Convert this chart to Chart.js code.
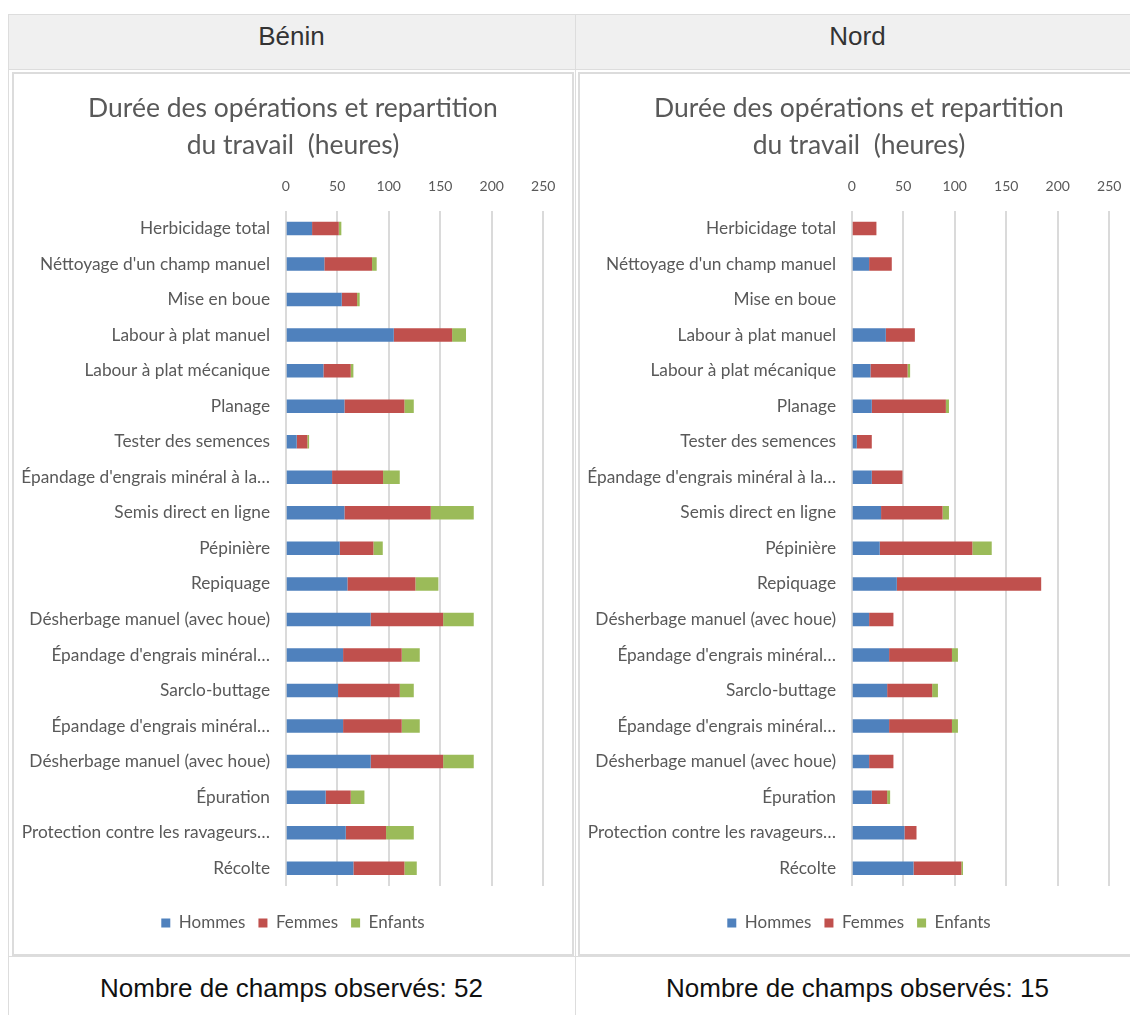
<!DOCTYPE html>
<html>
<head>
<meta charset="utf-8">
<script src="https://cdn.jsdelivr.net/npm/chart.js@4.4.1/dist/chart.umd.min.js"></script>
<style>
  html, body { margin: 0; padding: 0; background: #fff; width: 1130px; height: 1015px; overflow: hidden; }
  #wrap { position: relative; width: 1130px; height: 1015px; overflow: hidden; font-family: "Liberation Sans", Arial, sans-serif; }
  .bg { position: absolute; background: #f0f0f0; }
  .ln { position: absolute; background: #dddddd; }
  .frame { position: absolute; border: 2px solid #dcdcdc; box-sizing: border-box; background: #fff; }
  .txt { position: absolute; text-align: center; font-size: 26px; color: #333; line-height: 44px; height: 44px; }
  canvas { position: absolute; }
</style>
</head>
<body>
<div id="wrap">
  <div class="bg" style="left:8px;top:14px;width:1140px;height:56px;"></div>
  <div class="ln" style="left:8px;top:14px;width:1140px;height:1px;"></div>
  <div class="ln" style="left:8px;top:69px;width:1140px;height:1px;"></div>
  <div class="ln" style="left:8px;top:956px;width:1140px;height:1px;"></div>
  <div class="ln" style="left:8px;top:14px;width:1px;height:1001px;"></div>
  <div class="ln" style="left:575px;top:14px;width:1px;height:1001px;"></div>

  <div class="txt" style="left:8px;top:14px;width:567px;">Bénin</div>
  <div class="txt" style="left:575px;top:14px;width:565px;">Nord</div>

  <div class="frame" style="left:12px;top:72px;width:562px;height:884px;"></div>
  <div class="frame" style="left:578px;top:72px;width:562px;height:884px;"></div>

  <canvas id="c1" width="558" height="880" style="left:14px;top:74px;width:558px;height:880px;"></canvas>
  <canvas id="c2" width="558" height="880" style="left:580px;top:74px;width:558px;height:880px;"></canvas>

  <div class="txt" style="left:8px;top:966px;width:567px;color:#111;">Nombre de champs observés: 52</div>
  <div class="txt" style="left:575px;top:966px;width:565px;color:#111;">Nombre de champs observés: 15</div>
</div>
<script>
const categories = [
  "Herbicidage total",
  "Néttoyage d'un champ manuel",
  "Mise en boue",
  "Labour à plat manuel",
  "Labour à plat mécanique",
  "Planage",
  "Tester des semences",
  "Épandage d'engrais minéral à la…",
  "Semis direct en ligne",
  "Pépinière",
  "Repiquage",
  "Désherbage manuel (avec houe)",
  "Épandage d'engrais minéral…",
  "Sarclo-buttage",
  "Épandage d'engrais minéral…",
  "Désherbage manuel (avec houe)",
  "Épuration",
  "Protection contre les ravageurs…",
  "Récolte"
];
const seriesNames = ["Hommes", "Femmes", "Enfants"];
const chartTitle = ["Durée des opérations et repartition", "du travail  (heures)"];
const xTicks = [0, 50, 100, 150, 200, 250];

const beninHommes  = [25.6, 37.5, 54.4, 104.9, 36.6, 57.0, 10.7, 45.0, 57.0, 52.4, 59.9, 82.5, 55.7, 50.8, 55.7, 82.5, 38.8, 58.3, 65.7];
const beninFemmes  = [25.9, 46.3, 14.9, 56.6, 26.5, 58.2, 10.3, 49.5, 83.8, 32.7, 66.0, 70.3, 56.9, 59.9, 56.9, 70.3, 24.3, 39.1, 49.5];
const beninEnfants = [2.5, 4.5, 2.5, 13.5, 2.6, 9.1, 1.7, 16.2, 41.7, 9.1, 22.3, 29.7, 17.5, 13.6, 17.5, 29.7, 13.3, 26.9, 12.0];

const nordHommes  = [0, 16.9, 0, 33.1, 18.2, 19.5, 4.9, 19.5, 28.5, 27.2, 43.8, 16.9, 36.3, 34.4, 36.3, 16.9, 19.5, 51.2, 60.0];
const nordFemmes  = [24.0, 22.0, 0, 28.2, 36.0, 71.9, 14.6, 29.8, 59.7, 89.9, 140.1, 23.6, 61.0, 43.7, 61.0, 23.6, 14.9, 11.7, 46.4];
const nordEnfants = [0, 0, 0, 0, 2.5, 3.0, 0, 0, 6.2, 18.8, 0, 0, 5.8, 5.6, 5.8, 0, 2.9, 0, 1.6];

const colors = ["#4f81bd", "#c0504d", "#9bbb59"];
const grey = "#595959";

function makeChart(id, h, f, e) {
  return new Chart(document.getElementById(id), {
    type: "bar",
    data: {
      labels: categories,
      datasets: [
        { label: seriesNames[0], data: h, backgroundColor: colors[0], borderWidth: 0 },
        { label: seriesNames[1], data: f, backgroundColor: colors[1], borderWidth: 0 },
        { label: seriesNames[2], data: e, backgroundColor: colors[2], borderWidth: 0 }
      ]
    },
    options: {
      indexAxis: "y",
      responsive: false,
      maintainAspectRatio: false,
      animation: false,
      devicePixelRatio: 1,
      barPercentage: 0.76,
      categoryPercentage: 0.5,
      layout: { padding: { left: 0, right: 0, top: 0, bottom: 12.5 } },
      plugins: {
        title: {
          display: true,
          text: chartTitle,
          color: grey,
          font: { family: "Lato", size: 26.5, weight: "normal", lineHeight: "37px" },
          padding: { top: 15.5, bottom: 14.1 }
        },
        legend: {
          position: "bottom",
          labels: { color: grey, font: { family: "Lato", size: 17 }, boxWidth: 9, boxHeight: 9, padding: 13 }
        },
        tooltip: { enabled: false }
      },
      scales: {
        x: {
          position: "top",
          stacked: true,
          min: xTicks[0],
          max: xTicks[xTicks.length - 1],
          afterBuildTicks(s) { s.ticks = xTicks.map(v => ({ value: v })); },
          ticks: { color: grey, font: { family: "Lato", size: 14 }, padding: 16.3, maxRotation: 0 },
          grid: { color: "#dadada", lineWidth: 2, drawTicks: false },
          border: { display: false },
          afterFit(s) { s.height = 33.1; }
        },
        y: {
          stacked: true,
          grid: { display: false, drawTicks: false },
          border: { display: false },
          ticks: { color: grey, font: { family: "Lato", size: 17.3 }, padding: 15.7, autoSkip: false },
          afterFit(s) { s.width = 271.7; }
        },
        xPad: {
          type: "linear",
          axis: "x",
          position: "bottom",
          ticks: { display: false },
          grid: { display: false, drawTicks: false },
          border: { display: false },
          afterFit(s) { s.height = 15.5; }
        },
        yPad: {
          type: "linear",
          axis: "y",
          position: "right",
          ticks: { display: false },
          grid: { display: false, drawTicks: false },
          border: { display: false },
          afterFit(s) { s.width = 28.7; }
        }
      }
    }
  });
}

makeChart("c1", beninHommes, beninFemmes, beninEnfants);
makeChart("c2", nordHommes, nordFemmes, nordEnfants);
</script>
</body>
</html>
